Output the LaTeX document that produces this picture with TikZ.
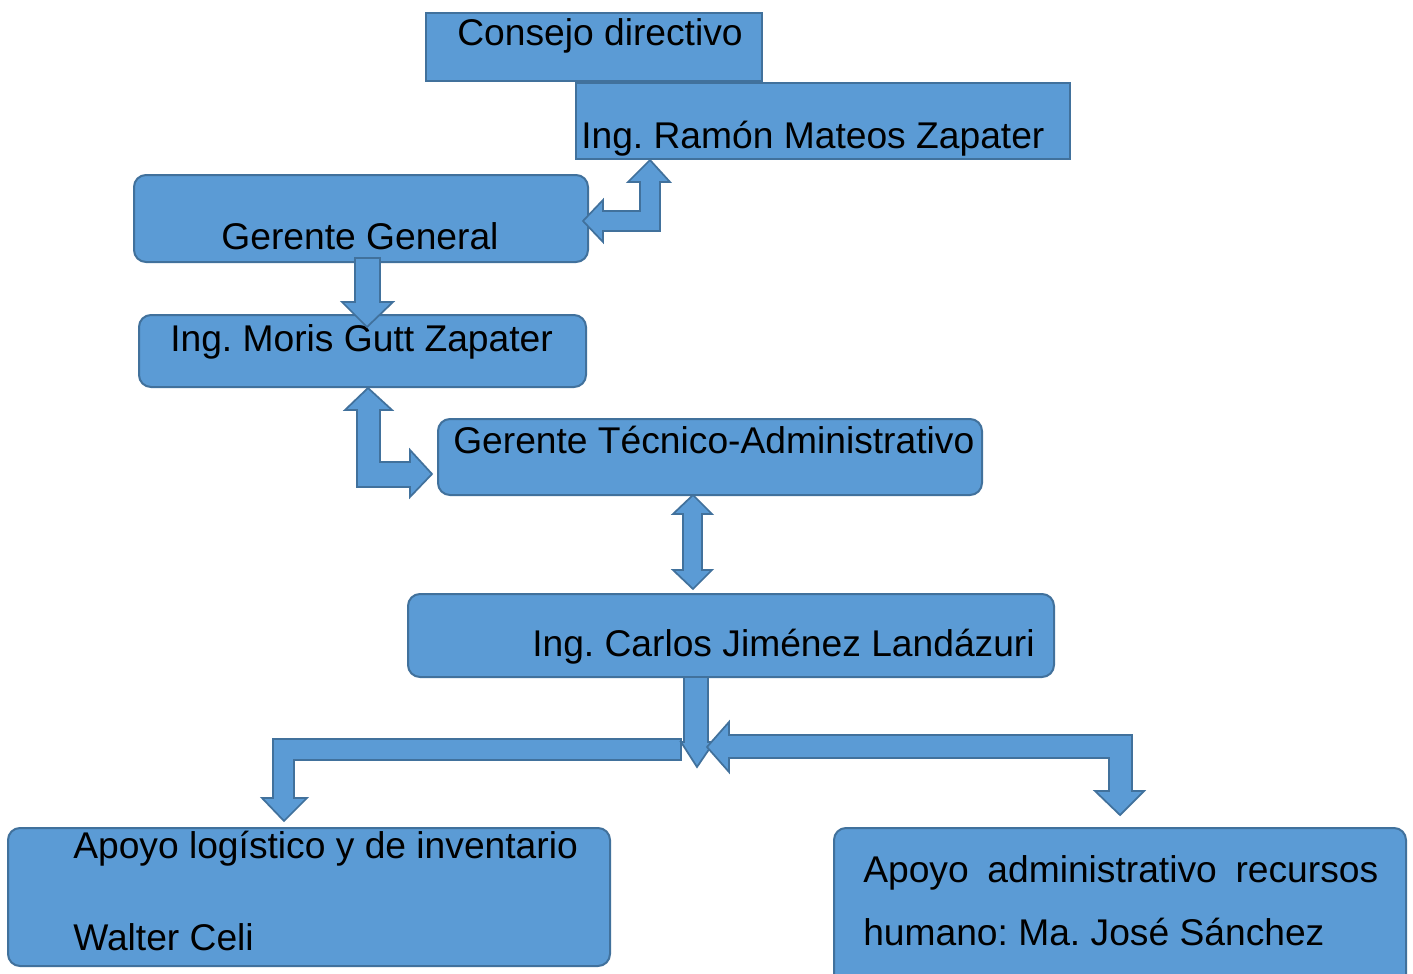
\documentclass[tikz,border=0pt]{standalone}
\usepackage{fontspec}
\setmainfont{Liberation Sans}
\usetikzlibrary{fit}
\frenchspacing
\definecolor{boxfill}{HTML}{5B9BD5}
\definecolor{boxline}{HTML}{41719C}
\tikzset{
  sqbox/.style={draw=boxline, fill=boxfill, line width=1.5pt, inner sep=0pt, rectangle},
  rndbox/.style={sqbox, rounded corners=9pt},
  blockarrow/.style={draw=boxline, fill=boxfill, line width=1.3pt, line join=miter},
  lbl/.style={inner sep=0pt, font=\fontsize{27.9}{33}\selectfont, text=black}
}
\begin{document}
\begin{tikzpicture}[x=0.75pt, y=-0.75pt]
\useasboundingbox (0,0) rectangle (1413,974);
\clip (0,0) rectangle (1413,974);
\fill[white] (0,0) rectangle (1413,974);
% boxes
\node[sqbox, fit={(426,13) (762,81)}] (consejo) {};
\node[sqbox, fit={(576,83) (1070,159)}] (ramon) {};
\node[rndbox, fit={(134,175) (588,262)}] (gerente) {};
\node[rndbox, fit={(139,315) (586,387)}] (moris) {};
\node[rndbox, fit={(438,419) (982,495)}] (tecnico) {};
\node[rndbox, fit={(408,594) (1054,677)}] (carlos) {};
\node[rndbox, fit={(8,828) (610,966)}] (logistico) {};
\node[rndbox, fit={(834,828) (1406,995)}] (admin) {};
% texts
\node[lbl, anchor=base] (tconsejo) at (600,46) {Consejo directivo};
\node[lbl, anchor=base west] (tramon) at (581,148) {Ing. Ramón Mateos Zapater};
\node[lbl, anchor=base] (tgerente) at (360,249) {Gerente General};
\node[lbl, anchor=base west] (tmoris) at (170,351) {Ing. Moris Gutt Zapater};
\node[lbl, anchor=base west] (ttecnico) at (453,453) {Gerente Técnico-Administrativo};
\node[lbl, anchor=base west] (tcarlos) at (532,656) {Ing. Carlos Jiménez Landázuri};
\node[lbl, anchor=base west] (tlog1) at (73,858) {Apoyo logístico y de inventario};
\node[lbl, anchor=base west] (tlog2) at (73,950) {Walter Celi};
\node[lbl, anchor=base west] (tadm1) at (863,882) {\makebox[386.25pt][s]{Apoyo administrativo recursos}};
\node[lbl, anchor=base west] (tadm2) at (863,945) {humano: Ma. José Sánchez};
% block arrows
\draw[blockarrow] (650,160) -- (670,182) -- (660,182) -- (660,231) -- (603,231) -- (603,242) -- (583,221) -- (603,200) -- (603,211) -- (640,211) -- (640,182) -- (628,182) -- cycle;
\draw[blockarrow] (355,258) -- (380,258) -- (380,302) -- (393,302) -- (367,327) -- (342,302) -- (355,302) -- cycle;
\draw[blockarrow] (368,388) -- (392,410) -- (380,410) -- (380,462) -- (410,462) -- (410,450) -- (432,474) -- (410,497) -- (410,487) -- (357,487) -- (357,410) -- (345,410) -- cycle;
\draw[blockarrow] (693,495) -- (712,514) -- (702,514) -- (702,570) -- (712,570) -- (693,589) -- (673,570) -- (683,570) -- (683,514) -- (673,514) -- cycle;
\draw[blockarrow] (681,739) -- (681,760) -- (294,760) -- (294,798) -- (307,798) -- (284,821) -- (262,798) -- (273,798) -- (273,739) -- cycle;
\draw[blockarrow] (684,677) -- (708,677) -- (708,742) -- (714,742) -- (697,767) -- (681,742) -- (684,742) -- cycle;
\draw[blockarrow] (707,747) -- (729,722) -- (729,735) -- (1132,735) -- (1132,791) -- (1144,791) -- (1120,815) -- (1095,791) -- (1109,791) -- (1109,758) -- (729,758) -- (729,772) -- cycle;
\end{tikzpicture}
\end{document}
